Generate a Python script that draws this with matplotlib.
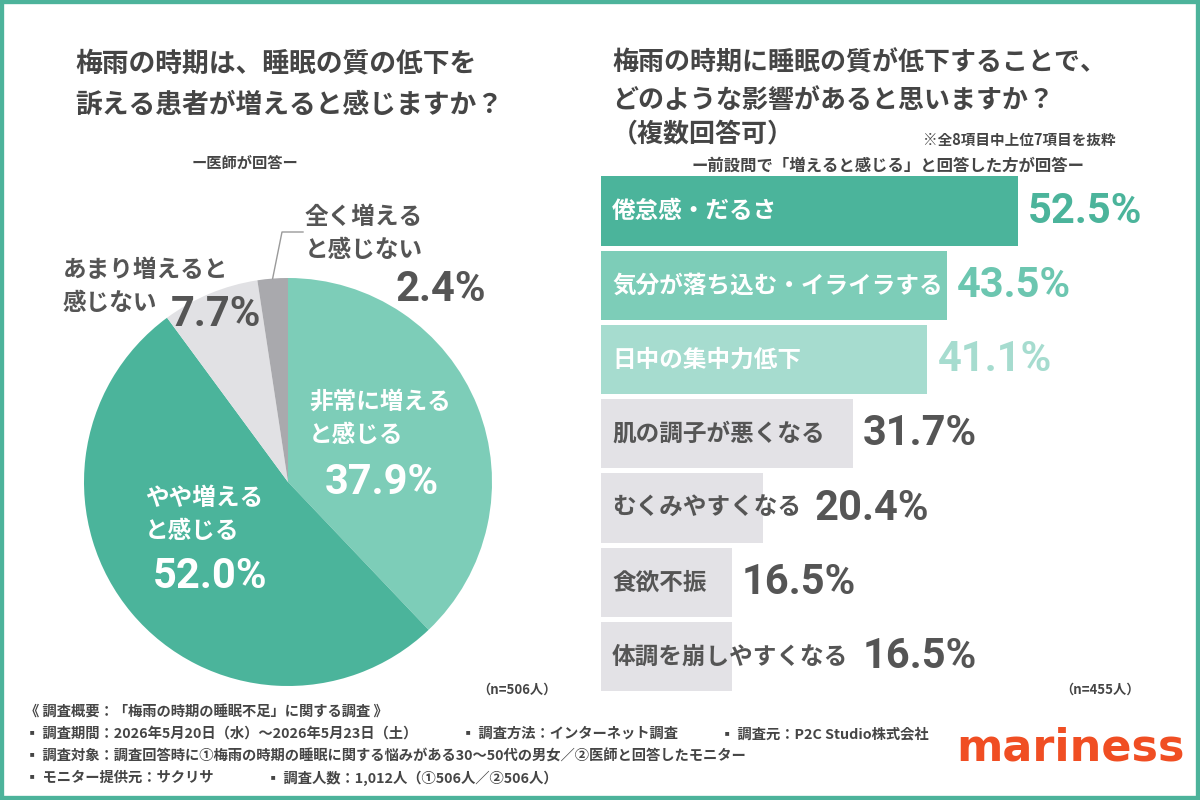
import numpy as np
import matplotlib
matplotlib.use('Agg')
import matplotlib.pyplot as plt
from matplotlib.patches import Rectangle

plt.rcParams['font.family'] = ['Noto Sans CJK JP', 'DejaVu Sans']

# 左：円グラフのデータ
pie_labels = [['非常に増える', 'と感じる'], ['やや増える', 'と感じる'],
              ['あまり増えると', '感じない'], ['全く増える', 'と感じない']]
pie_values = [37.9, 52.0, 7.7, 2.4]
pie_colors = ['#7DCDB8', '#4BB49B', '#E1E1E4', '#A9A9AD']

# 右：棒グラフのデータ
bar_labels = ['倦怠感・だるさ', '気分が落ち込む・イライラする', '日中の集中力低下',
              '肌の調子が悪くなる', 'むくみやすくなる', '食欲不振', '体調を崩しやすくなる']
bar_values = [52.5, 43.5, 41.1, 31.7, 20.4, 16.5, 16.5]
bar_colors = ['#4BB49B', '#7DCDB8', '#A6DCCF', '#E3E2E6', '#E3E2E6', '#E3E2E6', '#E3E2E6']
pct_colors = ['#4BB49B', '#6CC6B0', '#A6DCCF', '#555555', '#555555', '#555555', '#555555']
label_colors = ['white', 'white', 'white', '#555555', '#555555', '#555555', '#555555']

W, H = 1200, 800
TXT = '#454545'
GREY = '#555555'
NUM_FONT = ['Roboto', 'DejaVu Sans']
NUM_SIZE = 30

fig = plt.figure(figsize=(12, 8), dpi=100)
fig.patch.set_facecolor('white')


def px(x, y):
    return x / W, 1 - y / H


def ftext(x, y, s, **kw):
    fig.text(*px(x, y), s, **kw)


# 枠線
fig.patches.append(Rectangle((0, 0), 1, 1, transform=fig.transFigure, fill=False,
                             edgecolor='#4DB39B', linewidth=6, zorder=10))

# タイトル
ftext(75, 63, '梅雨の時期は、睡眠の質の低下を', fontsize=19.3, fontweight='bold', color=TXT, va='center')
ftext(75, 105, '訴える患者が増えると感じますか？', fontsize=19.3, fontweight='bold', color=TXT, va='center')
ftext(245, 163, 'ー医師が回答ー', fontsize=11, fontweight='bold', color=TXT, va='center', ha='center')

ftext(612, 63, '梅雨の時期に睡眠の質が低下することで、', fontsize=18.7, fontweight='bold', color=TXT, va='center')
ftext(612, 100, 'どのような影響があると思いますか？', fontsize=18.7, fontweight='bold', color=TXT, va='center')
ftext(612, 134, '（複数回答可）', fontsize=18.7, fontweight='bold', color=TXT, va='center')
ftext(923, 140, '※全8項目中上位7項目を抜粋', fontsize=10.5, fontweight='bold', color=TXT, va='center')
ftext(888, 166, 'ー前設問で「増えると感じる」と回答した方が回答ー', fontsize=11.8, fontweight='bold',
      color=TXT, va='center', ha='center')

# 円グラフ
cx, cy, r = 288, 482, 204
axp = fig.add_axes([(cx - r) / W, 1 - (cy + r) / H, 2 * r / W, 2 * r / H])
wedges, _ = axp.pie(pie_values, colors=pie_colors, startangle=90, counterclock=False,
                    radius=1, wedgeprops=dict(linewidth=0))
axp.set_xlim(-1, 1)
axp.set_ylim(-1, 1)
axp.set_aspect('equal')
axp.axis('off')

# (ラベル左端x, 1行目y, 数値中心x, 数値y, 色)
pie_text_pos = [(309, 402, 382, 482, 'white'),
                (145, 498, 210, 577, 'white'),
                (63, 270, 216, 314, GREY),
                (305, 217, 441, 289, GREY)]
for (lx, ly, nx, ny, c), lines, v in zip(pie_text_pos, pie_labels, pie_values):
    for k, s in enumerate(lines):
        ftext(lx, ly + 33 * k, s, fontsize=17, fontweight='bold', color=c, va='center', ha='left')
    ftext(nx, ny, f'{v:.1f}%', fontsize=NUM_SIZE, fontweight='bold', color=c, va='center', ha='center',
          family=NUM_FONT)

# 「全く増えると感じない」の引き出し線
w = wedges[3]
mid = np.deg2rad((w.theta1 + w.theta2) / 2)
ax_pt = axp.transData.transform((np.cos(mid), np.sin(mid)))
tx, ty = ax_pt[0] / W, ax_pt[1] / H
fig.lines.append(plt.Line2D([303 / W, 282 / W, tx], [1 - 232 / H, 1 - 232 / H, ty],
                            transform=fig.transFigure, color='#9A9A9A', linewidth=1))

ftext(517, 690, '（n=506人）', fontsize=9.5, fontweight='bold', color=TXT, va='center', ha='center')

# 棒グラフ
x0 = 601
scale = 417 / 52.5
xmax = 60
top, bot = 211 - 37.125, 656.5 + 37.125
axb = fig.add_axes([x0 / W, 1 - bot / H, xmax * scale / W, (bot - top) / H])
y = np.arange(len(bar_values))
axb.barh(y, bar_values, height=0.93, color=bar_colors, linewidth=0)
axb.set_xlim(0, xmax)
axb.set_ylim(len(bar_values) - 0.5, -0.5)
axb.axis('off')

fig.canvas.draw()
renderer = fig.canvas.get_renderer()
for i, (lab, v) in enumerate(zip(bar_labels, bar_values)):
    t = axb.annotate(lab, xy=(0, i), xytext=(11, 0), textcoords='offset pixels',
                     fontsize=17, fontweight='bold', color=label_colors[i], va='center', ha='left')
    bb = t.get_window_extent(renderer)
    bar_end = axb.transData.transform((v, i))[0]
    off = max(bar_end + 10, bb.x1 + 14) - bar_end
    axb.annotate(f'{v:.1f}%', xy=(v, i), xytext=(off, 0), textcoords='offset pixels',
                 fontsize=NUM_SIZE, fontweight='bold', color=pct_colors[i], va='center', ha='left',
                 family=NUM_FONT, annotation_clip=False)

ftext(1100, 690, '（n=455人）', fontsize=9.5, fontweight='bold', color=TXT, va='center', ha='center')

# 調査概要
fs = 10.3
ftext(25, 712, '《 調査概要：「梅雨の時期の睡眠不足」に関する調査 》', fontsize=fs, fontweight='bold', color=TXT, va='center')
ftext(25, 734, '▪ 調査期間：2026年5月20日（水）～2026年5月23日（土）', fontsize=fs, fontweight='bold', color=TXT, va='center')
ftext(461, 734, '▪ 調査方法：インターネット調査', fontsize=fs, fontweight='bold', color=TXT, va='center')
ftext(720, 734, '▪ 調査元：P2C Studio株式会社', fontsize=fs, fontweight='bold', color=TXT, va='center')
ftext(25, 757, '▪ 調査対象：調査回答時に①梅雨の時期の睡眠に関する悩みがある30～50代の男女／②医師と回答したモニター',
      fontsize=fs, fontweight='bold', color=TXT, va='center')
ftext(25, 778, '▪ モニター提供元：サクリサ', fontsize=fs, fontweight='bold', color=TXT, va='center')
ftext(266, 778, '▪ 調査人数：1,012人（①506人／②506人）', fontsize=fs, fontweight='bold', color=TXT, va='center')

# ロゴ
ftext(1071, 748, 'mariness', fontsize=32, fontweight='heavy', color='#F04E23', va='center', ha='center',
      family=['DejaVu Sans'])

fig.savefig('out.png', dpi=100, facecolor='white')
